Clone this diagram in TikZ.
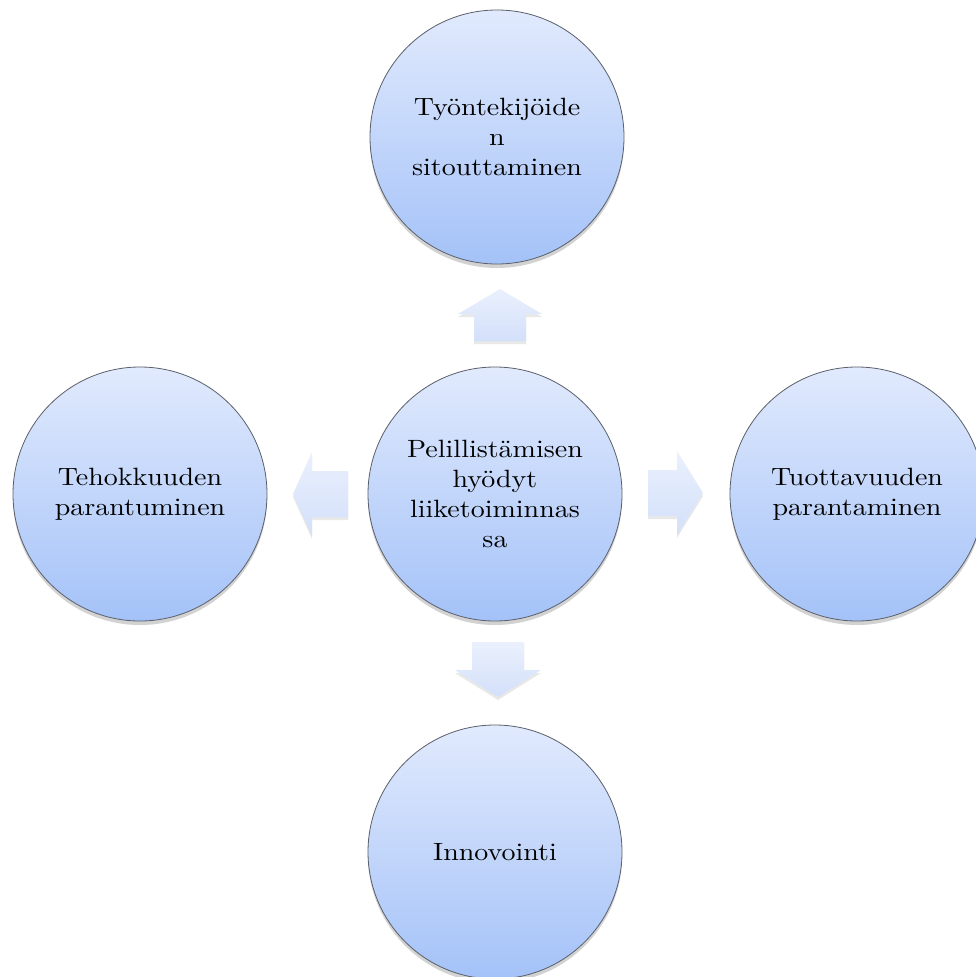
\documentclass[tikz,border=0pt]{standalone}
\usepackage{fontspec}
\setmainfont{lmroman10-regular}[Extension=.otf, FakeStretch=1.12]
\usetikzlibrary{shadows}
\definecolor{ctop}{HTML}{E1EAFD}
\definecolor{cbot}{HTML}{A4C2F8}
\definecolor{cline}{HTML}{5A5F6A}
\definecolor{atop}{HTML}{EAF0FD}
\definecolor{abot}{HTML}{D3E0FA}
\tikzset{
  bubble/.style={circle, draw=cline, line width=0.8pt, minimum size=254pt, inner sep=0pt,
    top color=ctop, bottom color=cbot, align=center,
    font=\fontsize{25}{30}\selectfont,
    drop shadow={shadow xshift=0pt, shadow yshift=-4pt, opacity=0.25, fill=black!70}},
  blockarrow/.style={top color=atop, bottom color=abot, draw=none,
    drop shadow={shadow xshift=0pt, shadow yshift=-3pt, opacity=0.15, fill=black!60}}
}
\begin{document}
\begin{tikzpicture}[x=1pt,y=-1pt]
\useasboundingbox (0,0) rectangle (976,977);
\fill[white] (0,0) rectangle (976,977);
% arrows
\path[blockarrow] (500,289) -- (542,314) -- (526,314) -- (526,341) -- (474,341) -- (474,314) -- (458,314) -- cycle;
\path[blockarrow] (498,697) -- (541,670) -- (524,670) -- (524,642) -- (472,642) -- (472,670) -- (455,670) -- cycle;
\path[blockarrow] (293,494) -- (312,452) -- (312,471) -- (348,471) -- (348,517) -- (312,517) -- (312,536) -- cycle;
\path[blockarrow] (703,493) -- (677,451) -- (677,470) -- (648,470) -- (648,516) -- (677,516) -- (677,535) -- cycle;
% circles
\node[bubble] (top) at (497,137) {Työntekijöide\\n\\sitouttaminen};
\node[bubble] (center) at (495,494) {Pelillistämisen\\hyödyt\\liiketoiminnas\\sa};
\node[bubble] (left) at (140,494) {Tehokkuuden\\parantuminen};
\node[bubble] (right) at (857,494) {Tuottavuuden\\parantaminen};
\node[bubble] (bottom) at (495,852) {Innovointi};
\end{tikzpicture}
\end{document}
